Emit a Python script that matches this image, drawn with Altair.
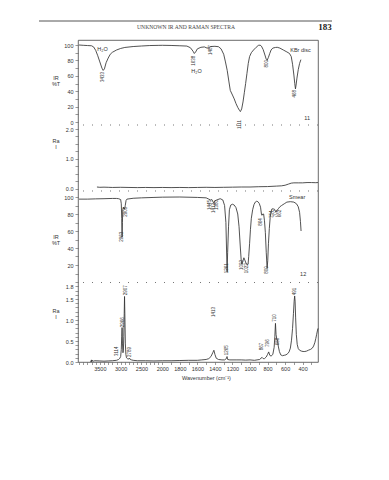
import altair as alt
import pandas as pd

# ---------------- data ----------------
# Spectrum 11, IR (%T), KBr disc
ir11_wn = [4000, 3900, 3800, 3700, 3650, 3600, 3550, 3500, 3450, 3420, 3390, 3350, 3300, 3250, 3200,
           3100, 3000, 2900, 2700, 2500, 2300, 2100, 2000, 1900, 1800, 1720, 1680, 1650, 1635, 1620,
           1600, 1560, 1520, 1490, 1470, 1450, 1400, 1360, 1330, 1300, 1280, 1260, 1240, 1225, 1200,
           1180, 1160, 1140, 1120, 1110, 1095, 1080, 1065, 1050, 1035, 1020, 1005, 985, 960, 930,
           905, 885, 870, 850, 830, 815, 805, 790, 775, 760, 740, 710, 690, 660, 620,
           580, 550, 530, 515, 500, 490, 482, 475, 465, 450, 435, 420]
ir11_t = [100, 99.6, 99.3, 99, 97.5, 93, 86, 78, 70, 67, 69, 77, 83, 88, 90.5,
          93.5, 95.5, 96.8, 98, 98.7, 99.3, 99.5, 99.6, 99.4, 99, 98.6, 96.5, 92, 89, 91,
          95, 97, 97.5, 96, 96.5, 98, 98.3, 97.8, 95, 88, 78, 67, 52, 41, 35,
          30, 24, 19, 15, 13.5, 17, 26, 38, 50, 63, 76, 85, 90, 93.5, 97,
          99.5, 99.8, 98.5, 94, 87, 81.5, 80, 84, 89, 93.5, 96, 96.8, 97, 96, 93.5,
          91, 89, 85, 75, 61, 50, 43, 48, 57, 68, 76, 81]

# Spectrum 11, Raman intensity
ra11_wn = [3570, 3500, 3400, 3300, 3200, 3000, 2800, 2600, 2400, 2200, 2000, 1900, 1800, 1700,
           1600, 1500, 1400, 1300, 1200, 1100, 1000, 900, 800, 700, 640, 600, 560, 530, 500,
           450, 400, 350, 300, 250, 225]
ra11_i = [0.05, 0.04, 0.045, 0.04, 0.035, 0.04, 0.035, 0.03, 0.035, 0.03, 0.035, 0.03, 0.035, 0.03,
          0.035, 0.04, 0.035, 0.04, 0.045, 0.05, 0.05, 0.06, 0.065, 0.08, 0.09, 0.11, 0.15, 0.18, 0.19,
          0.19, 0.19, 0.2, 0.2, 0.195, 0.2]

# Spectrum 12, IR (%T), smear
ir12_wn = [4000, 3800, 3600, 3400, 3200, 3100, 3050, 3000, 2985, 2975, 2966, 2958, 2950, 2935, 2920,
           2905, 2890, 2870, 2850, 2700, 2500, 2200, 2000, 1800, 1600, 1500, 1470, 1450, 1435, 1420,
           1412, 1400, 1380, 1340, 1310, 1290, 1275, 1268, 1261, 1255, 1245, 1235, 1220, 1200, 1180,
           1160, 1140, 1125, 1110, 1100, 1093, 1080, 1070, 1060, 1045, 1030, 1022, 1015, 1005, 995,
           985, 970, 955, 940, 925, 910, 895, 880, 870, 864, 855, 845, 835, 825, 815,
           805, 798, 790, 780, 770, 760, 750, 735, 720, 710, 703, 695, 685, 675, 660,
           640, 610, 580, 540, 500, 470, 450, 435, 425, 418]
ir12_t = [97.5, 97.5, 97.8, 98, 98.3, 98.3, 98, 97, 92, 75, 53, 70, 85, 88, 87,
          85.5, 90, 96, 97.5, 98.5, 99, 99.5, 99.8, 100, 99.5, 99, 97.5, 96.5, 97, 94,
          92.5, 95.5, 96.5, 98, 96.5, 90, 70, 40, 12, 35, 65, 85, 90.5, 91.5, 90.5,
          87.5, 80, 65, 40, 25, 21, 25, 28.5, 26, 22, 20.5, 21, 30, 45, 62,
          75, 85, 91, 94, 95, 94.5, 92.5, 88, 80, 78.5, 80, 80, 72, 58, 35,
          16, 25, 45, 63, 76, 83, 86, 86, 85.5, 83, 82.5, 84.5, 85, 86.5, 88.5,
          90, 92, 94, 94.5, 94, 92, 88.5, 82, 71, 60]

# Spectrum 12, Raman intensity
ra12_wn = [3720, 3710, 3700, 3690, 3680, 3660, 3620, 3500, 3400, 3300, 3200, 3100, 3050, 3020, 3000,
           2985, 2975, 2966, 2957, 2945, 2935, 2925, 2915, 2907, 2898, 2888, 2875, 2860, 2840, 2800,
           2785, 2770, 2740, 2700, 2600, 2400, 2200, 2000, 1900, 1800, 1700, 1600, 1550, 1500, 1470,
           1445, 1425, 1412, 1400, 1385, 1360, 1320, 1290, 1270, 1262, 1255, 1230, 1150, 1100, 1050,
           1000, 950, 920, 890, 875, 862, 850, 835, 815, 800, 787, 775, 760, 740, 725,
           717, 710, 703, 695, 687, 678, 665, 650, 630, 610, 590, 570, 555, 540, 527,
           515, 505, 497, 491, 486, 480, 472, 462, 450, 435, 415, 395, 375, 355, 335,
           310, 290, 275, 260, 250, 240, 230, 225]
ra12_i = [0.03, 0.0, 0.05, 0.01, 0.04, 0.02, 0.03, 0.025, 0.02, 0.025, 0.03, 0.04, 0.06, 0.09, 0.13,
          0.3, 0.6, 0.82, 0.45, 0.22, 0.28, 0.6, 1.15, 1.56, 1.05, 0.45, 0.18, 0.1, 0.08, 0.07,
          0.09, 0.06, 0.05, 0.04, 0.03, 0.03, 0.025, 0.03, 0.03, 0.035, 0.04, 0.04, 0.05, 0.06, 0.08,
          0.13, 0.22, 0.28, 0.18, 0.09, 0.06, 0.05, 0.05, 0.08, 0.13, 0.06, 0.05, 0.05, 0.05, 0.045,
          0.05, 0.04, 0.05, 0.06, 0.09, 0.11, 0.08, 0.08, 0.12, 0.18, 0.24, 0.16, 0.14, 0.18, 0.35,
          0.6, 0.92, 0.65, 0.55, 0.52, 0.38, 0.25, 0.17, 0.15, 0.16, 0.17, 0.2, 0.24, 0.33, 0.52,
          0.8, 1.15, 1.45, 1.57, 1.45, 1.05, 0.65, 0.42, 0.32, 0.28, 0.26, 0.25, 0.25, 0.26, 0.28,
          0.3, 0.33, 0.38, 0.47, 0.56, 0.66, 0.76, 0.8]

# Peak labels (text, wavenumber where drawn, value where drawn)
ir11_lab = ["3433", "1638", "1487", "1111", "800", "468"]
ir11_lab_wn = [3433, 1638, 1450, 1111, 806, 482]
ir11_lab_v = [65, 86, 100, 2.6, 80.5, 41.5]
ir11_note = ["H\u2082O", "H\u2082O", "KBr disc", "11"]
ir11_note_wn = [3436, 1610, 425, 348]
ir11_note_v = [94.8, 66, 93.5, 5]

ir12_lab = ["2963", "2905", "1445", "1412", "1380", "1261", "1093", "1022", "864", "800", "754", "707", "662"]
ir12_lab_wn = [2966, 2881, 1456, 1413, 1372, 1261, 1093, 1029, 871, 806, 754, 708, 654]
ir12_lab_v = [59, 88.6, 96.5, 93, 96.5, 22, 26, 22, 75, 18.5, 84, 85, 85]
ir12_note = ["Smear", "12"]
ir12_note_wn = [463, 394]
ir12_note_v = [100.4, 9.4]

ra12_lab = ["3114", "2966", "2907", "2789", "1413", "1265", "867", "796", "710", "688", "491"]
ra12_lab_wn = [3095, 2952, 2873, 2778, 1410, 1258, 864, 795, 711, 680, 490]
ra12_lab_v = [0.14, 0.83, 1.59, 0.12, 1.07, 0.16, 0.28, 0.36, 0.96, 0.4, 1.59]

# axis titles of the four panels (two lines each, value where each line sits)
ir11_title = ["IR", "%T"]
ir11_title_v = [57.1, 49.4]
ra11_title = ["Ra", "I"]
ra11_title_v = [1.6, 1.4]
ir12_title = ["IR", "%T"]
ir12_title_v = [52.9, 45.9]
ra12_title = ["Ra", "I"]
ra12_title_v = [1.21, 1.07]

x_label_vals = [3500, 3000, 2500, 2000, 1800, 1600, 1400, 1200, 1000, 800, 600, 400]
x_tick_vals = list(range(4000, 299, -100))

# ---------------- layout / style ----------------
FONT = "Liberation Sans"
INK = "#333333"
X_DOMAIN = [4025, 2000, 225]
X_RANGE = [0, 84.3, 240]

P_IR11 = dict(domain=[0, 100], range=[82, 5])
P_RA11 = dict(domain=[0, 2], range=[148.5, 89])
P_IR12 = dict(domain=[0, 100], range=[242, 157])
P_RA12 = dict(domain=[0, 1.8], range=[322, 246.4])

x_label_str = ",".join(str(v) for v in x_label_vals)
X_AXIS = alt.Axis(values=x_tick_vals,
                  labelExpr=f"indexof([{x_label_str}], datum.value) >= 0 ? format(datum.value, 'd') : ''",
                  labelOverlap=False, labelFlush=False, tickSize=2.5, labelPadding=2,
                  title="Wavenumber (cm\u207b\u00b9)", titleX=128, titleY=15, titleBaseline="middle",
                  titleAlign="center", titleAngle=0)


def xenc():
    return alt.X("wn:Q", scale=alt.Scale(domain=X_DOMAIN, range=X_RANGE, nice=False, zero=False), axis=X_AXIS)


def yenc(field, p, axis=None):
    return alt.Y(f"{field}:Q", scale=alt.Scale(domain=p["domain"], range=p["range"], nice=False, zero=False),
                 axis=axis)


def yaxis(values, label_expr):
    return alt.Axis(orient="left", values=values, labelExpr=label_expr, title=None,
                    labelOverlap=False, labelFlush=False)


def line(wn, v, p, axis=None):
    df = pd.DataFrame({"wn": wn, "v": v})
    return alt.Chart(df).mark_line(color=INK, strokeWidth=0.85).encode(x=xenc(), y=yenc("v", p, axis))


def labels(texts, wn, v, p, angle=270, align="right", size=4.5):
    df = pd.DataFrame({"wn": wn, "v": v, "t": texts})
    return alt.Chart(df).mark_text(angle=angle, align=align, baseline="middle", fontSize=size, font=FONT,
                                   color=INK).encode(x=xenc(), y=yenc("v", p), text="t:N")


def notes(texts, wn, v, p, size=5.5):
    df = pd.DataFrame({"wn": wn, "v": v, "t": texts})
    return alt.Chart(df).mark_text(align="center", baseline="middle", fontSize=size, font=FONT,
                                   color=INK).encode(x=xenc(), y=yenc("v", p), text="t:N")


def ytitle(texts, v, p):
    df = pd.DataFrame({"v": v, "t": texts})
    return alt.Chart(df).mark_text(align="center", baseline="middle", fontSize=5.5, font=FONT,
                                   color=INK).encode(x=alt.value(-22), y=yenc("v", p), text="t:N")


def separator(value, p):
    return alt.Chart(pd.DataFrame({"v": [value]})).mark_rule(
        color="#666", strokeWidth=0.9, strokeDash=[1, 8]).encode(y=yenc("v", p))


ir11_ticks = list(range(0, 101, 10))
ra11_ticks = [i * 0.25 for i in range(9)]
ir12_ticks = list(range(0, 101, 10))
ra12_ticks = [round(i * 0.1, 1) for i in range(19)]

ax_ir11 = yaxis(ir11_ticks, "datum.value % 20 == 0 ? datum.label : ''")
ax_ra11 = yaxis(ra11_ticks, "datum.value % 1 == 0 ? format(datum.value, '.1f') : ''")
ax_ir12 = yaxis(ir12_ticks, "datum.value % 20 == 0 && datum.value > 0 ? datum.label : ''")
ax_ra12 = yaxis(ra12_ticks,
                "indexof(['0.0','0.5','1.0','1.5','1.8'], format(datum.value, '.1f')) >= 0 ? format(datum.value, '.1f') : ''")

# page decorations
header = alt.Chart(pd.DataFrame({"t": ["UNKNOWN IR AND RAMAN SPECTRA"]})).mark_text(
    font="Liberation Serif", fontSize=5.6, color="#444", align="center", baseline="middle").encode(
    text="t:N", x=alt.value(108), y=alt.value(-13))
pageno = alt.Chart(pd.DataFrame({"t": ["183"]})).mark_text(
    font="Liberation Serif", fontSize=9, fontWeight="bold", color="#222", align="center", baseline="middle").encode(
    text="t:N", x=alt.value(247), y=alt.value(-13))
head_rule = alt.Chart(pd.DataFrame({"a": [0]})).mark_rule(color="#555", strokeWidth=1).encode(
    x=alt.value(-39), x2=alt.value(254), y=alt.value(-19))

layers = [
    separator(-3.9, P_IR11),
    separator(-0.084, P_RA11),
    separator(-0.6, P_IR12),
    line(ir11_wn, ir11_t, P_IR11, ax_ir11),
    line(ra11_wn, ra11_i, P_RA11, ax_ra11),
    line(ir12_wn, ir12_t, P_IR12, ax_ir12),
    line(ra12_wn, ra12_i, P_RA12, ax_ra12),
    labels(ir11_lab, ir11_lab_wn, ir11_lab_v, P_IR11),
    notes(ir11_note, ir11_note_wn, ir11_note_v, P_IR11),
    labels(ir12_lab, ir12_lab_wn, ir12_lab_v, P_IR12),
    notes(ir12_note, ir12_note_wn, ir12_note_v, P_IR12),
    labels(ra12_lab, ra12_lab_wn, ra12_lab_v, P_RA12, align="left"),
    ytitle(ir11_title, ir11_title_v, P_IR11),
    ytitle(ra11_title, ra11_title_v, P_RA11),
    ytitle(ir12_title, ir12_title_v, P_IR12),
    ytitle(ra12_title, ra12_title_v, P_RA12),
    header, pageno, head_rule,
]

chart = alt.layer(*layers).resolve_scale(y="independent").properties(
    width=240, height=322,
    padding={"left": 78, "top": 40, "right": 71, "bottom": 118},
    autosize=alt.AutoSizeParams(type="none"),
    background="white",
).configure_view(stroke="#444", strokeWidth=0.8).configure_axis(
    labelFont=FONT, labelFontSize=5.5, labelColor=INK, tickColor="#555", tickSize=3, tickWidth=0.6,
    domain=False, grid=False, titleFont=FONT, titleFontSize=5.5, titleFontWeight="normal", titleColor=INK,
    labelPadding=2,
)

chart.save("out.html", embed_options={"renderer": "svg", "actions": False})
